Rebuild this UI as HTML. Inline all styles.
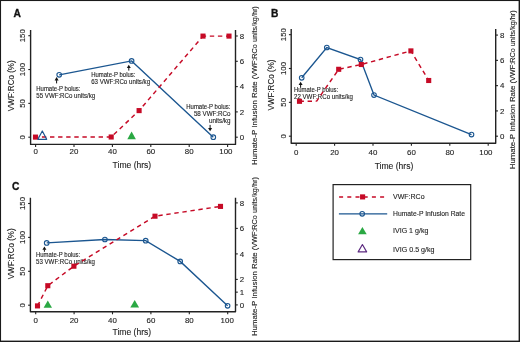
<!DOCTYPE html><html><head><meta charset="utf-8"><style>html,body{margin:0;padding:0;background:#fff;}svg{display:block;will-change:transform;}text{font-family:"Liberation Sans", sans-serif;}</style></head><body>
<svg width="520" height="342" viewBox="0 0 520 342">
<rect x="0" y="0" width="520" height="342" fill="#fff"/>
<text x="13.40" y="17.00" font-size="11.8" text-anchor="start" fill="#111" font-weight="bold" stroke="#111" stroke-width="0.35" textLength="7.4" lengthAdjust="spacingAndGlyphs">A</text>
<polyline points="30.6,30.0 30.6,144.4 235.5,144.4 235.5,30.0" fill="none" stroke="#222" stroke-width="1.4" stroke-linejoin="round"/>
<line x1="28.30" y1="137.20" x2="30.60" y2="137.20" stroke="#222" stroke-width="1.1" />
<text x="25.20" y="137.20" font-size="7.9" text-anchor="middle" fill="#1e1e1e" font-weight="normal" stroke="#1e1e1e" stroke-width="0.12" transform="rotate(-90 25.20 137.20)">0</text>
<line x1="28.30" y1="103.37" x2="30.60" y2="103.37" stroke="#222" stroke-width="1.1" />
<text x="25.20" y="103.37" font-size="7.9" text-anchor="middle" fill="#1e1e1e" font-weight="normal" stroke="#1e1e1e" stroke-width="0.12" transform="rotate(-90 25.20 103.37)">50</text>
<line x1="28.30" y1="69.54" x2="30.60" y2="69.54" stroke="#222" stroke-width="1.1" />
<text x="25.20" y="69.54" font-size="7.9" text-anchor="middle" fill="#1e1e1e" font-weight="normal" stroke="#1e1e1e" stroke-width="0.12" transform="rotate(-90 25.20 69.54)">100</text>
<line x1="28.30" y1="35.71" x2="30.60" y2="35.71" stroke="#222" stroke-width="1.1" />
<text x="25.20" y="35.71" font-size="7.9" text-anchor="middle" fill="#1e1e1e" font-weight="normal" stroke="#1e1e1e" stroke-width="0.12" transform="rotate(-90 25.20 35.71)">150</text>
<line x1="35.60" y1="144.40" x2="35.60" y2="147.00" stroke="#222" stroke-width="1.1" />
<text x="35.60" y="154.40" font-size="7.9" text-anchor="middle" fill="#1e1e1e" font-weight="normal" stroke="#1e1e1e" stroke-width="0.12">0</text>
<line x1="74.00" y1="144.40" x2="74.00" y2="147.00" stroke="#222" stroke-width="1.1" />
<text x="74.00" y="154.40" font-size="7.9" text-anchor="middle" fill="#1e1e1e" font-weight="normal" stroke="#1e1e1e" stroke-width="0.12">20</text>
<line x1="112.40" y1="144.40" x2="112.40" y2="147.00" stroke="#222" stroke-width="1.1" />
<text x="112.40" y="154.40" font-size="7.9" text-anchor="middle" fill="#1e1e1e" font-weight="normal" stroke="#1e1e1e" stroke-width="0.12">40</text>
<line x1="150.80" y1="144.40" x2="150.80" y2="147.00" stroke="#222" stroke-width="1.1" />
<text x="150.80" y="154.40" font-size="7.9" text-anchor="middle" fill="#1e1e1e" font-weight="normal" stroke="#1e1e1e" stroke-width="0.12">60</text>
<line x1="189.20" y1="144.40" x2="189.20" y2="147.00" stroke="#222" stroke-width="1.1" />
<text x="189.20" y="154.40" font-size="7.9" text-anchor="middle" fill="#1e1e1e" font-weight="normal" stroke="#1e1e1e" stroke-width="0.12">80</text>
<line x1="227.60" y1="144.40" x2="227.60" y2="147.00" stroke="#222" stroke-width="1.1" />
<text x="225.90" y="154.40" font-size="7.9" text-anchor="middle" fill="#1e1e1e" font-weight="normal" stroke="#1e1e1e" stroke-width="0.12">100</text>
<line x1="235.50" y1="137.20" x2="237.80" y2="137.20" stroke="#222" stroke-width="1.1" />
<text x="239.70" y="140.00" font-size="7.9" text-anchor="start" fill="#1e1e1e" font-weight="normal" stroke="#1e1e1e" stroke-width="0.12">0</text>
<line x1="235.50" y1="111.90" x2="237.80" y2="111.90" stroke="#222" stroke-width="1.1" />
<text x="239.70" y="114.70" font-size="7.9" text-anchor="start" fill="#1e1e1e" font-weight="normal" stroke="#1e1e1e" stroke-width="0.12">2</text>
<line x1="235.50" y1="86.60" x2="237.80" y2="86.60" stroke="#222" stroke-width="1.1" />
<text x="239.70" y="89.40" font-size="7.9" text-anchor="start" fill="#1e1e1e" font-weight="normal" stroke="#1e1e1e" stroke-width="0.12">4</text>
<line x1="235.50" y1="61.30" x2="237.80" y2="61.30" stroke="#222" stroke-width="1.1" />
<text x="239.70" y="64.10" font-size="7.9" text-anchor="start" fill="#1e1e1e" font-weight="normal" stroke="#1e1e1e" stroke-width="0.12">6</text>
<line x1="235.50" y1="36.00" x2="237.80" y2="36.00" stroke="#222" stroke-width="1.1" />
<text x="239.70" y="38.80" font-size="7.9" text-anchor="start" fill="#1e1e1e" font-weight="normal" stroke="#1e1e1e" stroke-width="0.12">8</text>
<text x="131.90" y="167.80" font-size="8.4" text-anchor="middle" fill="#1e1e1e" font-weight="normal" stroke="#1e1e1e" stroke-width="0.12" textLength="38.6" lengthAdjust="spacingAndGlyphs">Time (hrs)</text>
<text x="13.70" y="85.80" font-size="8.2" text-anchor="middle" fill="#1e1e1e" font-weight="normal" stroke="#1e1e1e" stroke-width="0.12" transform="rotate(-90 13.70 85.80)" textLength="51" lengthAdjust="spacingAndGlyphs">VWF:RCo (%)</text>
<text x="257.40" y="165.10" font-size="7.6" text-anchor="start" fill="#1e1e1e" font-weight="normal" stroke="#1e1e1e" stroke-width="0.12" transform="rotate(-90 257.40 165.10)" textLength="83.8" lengthAdjust="spacingAndGlyphs">Humate-P Infusion Rate</text>
<text x="257.40" y="79.20" font-size="7.6" text-anchor="start" fill="#1e1e1e" font-weight="normal" stroke="#1e1e1e" stroke-width="0.12" transform="rotate(-90 257.40 79.20)" textLength="73.0" lengthAdjust="spacingAndGlyphs">(VWF:RCo units/kg/hr)</text>
<text x="36.30" y="91.40" font-size="6.5" text-anchor="start" fill="#1e1e1e" font-weight="normal" stroke="#1e1e1e" stroke-width="0.12" textLength="44.2" lengthAdjust="spacingAndGlyphs">Humate-P bolus:</text>
<text x="36.30" y="98.20" font-size="6.5" text-anchor="start" fill="#1e1e1e" font-weight="normal" stroke="#1e1e1e" stroke-width="0.12" textLength="58.9" lengthAdjust="spacingAndGlyphs">55 VWF:RCo units/kg</text>
<text x="91.20" y="76.90" font-size="6.5" text-anchor="start" fill="#1e1e1e" font-weight="normal" stroke="#1e1e1e" stroke-width="0.12" textLength="44.2" lengthAdjust="spacingAndGlyphs">Humate-P bolus:</text>
<text x="91.20" y="84.10" font-size="6.5" text-anchor="start" fill="#1e1e1e" font-weight="normal" stroke="#1e1e1e" stroke-width="0.12" textLength="58.9" lengthAdjust="spacingAndGlyphs">63 VWF:RCo units/kg</text>
<text x="230.50" y="108.80" font-size="6.5" text-anchor="end" fill="#1e1e1e" font-weight="normal" stroke="#1e1e1e" stroke-width="0.12" textLength="44.2" lengthAdjust="spacingAndGlyphs">Humate-P bolus:</text>
<text x="230.50" y="115.80" font-size="6.5" text-anchor="end" fill="#1e1e1e" font-weight="normal" stroke="#1e1e1e" stroke-width="0.12" textLength="36.6" lengthAdjust="spacingAndGlyphs">58 VWF:RCo</text>
<text x="230.50" y="123.00" font-size="6.5" text-anchor="end" fill="#1e1e1e" font-weight="normal" stroke="#1e1e1e" stroke-width="0.12" textLength="21.6" lengthAdjust="spacingAndGlyphs">units/kg</text>
<polyline points="59.20,74.80 131.60,60.90 213.30,137.20" fill="none" stroke="#1b5690" stroke-width="1.35"/>
<circle cx="59.20" cy="74.80" r="2.3" fill="none" stroke="#1b5690" stroke-width="1.1"/>
<circle cx="131.60" cy="60.90" r="2.3" fill="none" stroke="#1b5690" stroke-width="1.1"/>
<circle cx="213.30" cy="137.20" r="2.3" fill="none" stroke="#1b5690" stroke-width="1.1"/>
<line x1="35.50" y1="137.10" x2="111.20" y2="137.00" stroke="#c60a26" stroke-width="1.45" stroke-dasharray="4.4 3.7" stroke-dashoffset="1.70"/>
<line x1="111.20" y1="137.00" x2="139.10" y2="110.60" stroke="#c60a26" stroke-width="1.45" stroke-dasharray="4.4 3.7" stroke-dashoffset="4.50"/>
<line x1="139.10" y1="110.60" x2="203.00" y2="36.10" stroke="#c60a26" stroke-width="1.45" stroke-dasharray="4.4 3.7" stroke-dashoffset="2.41"/>
<line x1="203.00" y1="36.10" x2="229.00" y2="36.10" stroke="#c60a26" stroke-width="1.45" stroke-dasharray="4.4 3.7" stroke-dashoffset="1.30"/>
<rect x="32.95" y="134.55" width="5.1" height="5.1" fill="#c60a26"/>
<rect x="108.65" y="134.45" width="5.1" height="5.1" fill="#c60a26"/>
<rect x="136.55" y="108.05" width="5.1" height="5.1" fill="#c60a26"/>
<rect x="200.45" y="33.55" width="5.1" height="5.1" fill="#c60a26"/>
<rect x="226.45" y="33.55" width="5.1" height="5.1" fill="#c60a26"/>
<polygon points="42.30,131.00 46.70,139.30 37.90,139.30" fill="none" stroke="#1b5690" stroke-width="1.2" stroke-linejoin="round"/>
<polygon points="131.60,131.60 135.90,139.20 127.30,139.20" fill="#2aa843"/>
<polygon points="56.60,77.10 58.60,80.40 54.60,80.40" fill="#111"/>
<line x1="56.60" y1="80.10" x2="56.60" y2="83.40" stroke="#111" stroke-width="1.0" />
<polygon points="128.80,64.80 130.80,68.10 126.80,68.10" fill="#111"/>
<line x1="128.80" y1="67.80" x2="128.80" y2="70.60" stroke="#111" stroke-width="1.0" />
<polygon points="210.10,131.20 212.10,127.90 208.10,127.90" fill="#111"/>
<line x1="210.10" y1="124.90" x2="210.10" y2="128.20" stroke="#111" stroke-width="1.0" />
<text x="271.10" y="17.00" font-size="11.8" text-anchor="start" fill="#111" font-weight="bold" stroke="#111" stroke-width="0.35" textLength="7.4" lengthAdjust="spacingAndGlyphs">B</text>
<polyline points="291.2,29.1 291.2,143.2 495.7,143.2 495.7,29.1" fill="none" stroke="#222" stroke-width="1.4" stroke-linejoin="round"/>
<line x1="288.90" y1="136.20" x2="291.20" y2="136.20" stroke="#222" stroke-width="1.1" />
<text x="285.80" y="136.20" font-size="7.9" text-anchor="middle" fill="#1e1e1e" font-weight="normal" stroke="#1e1e1e" stroke-width="0.12" transform="rotate(-90 285.80 136.20)">0</text>
<line x1="288.90" y1="102.35" x2="291.20" y2="102.35" stroke="#222" stroke-width="1.1" />
<text x="285.80" y="102.35" font-size="7.9" text-anchor="middle" fill="#1e1e1e" font-weight="normal" stroke="#1e1e1e" stroke-width="0.12" transform="rotate(-90 285.80 102.35)">50</text>
<line x1="288.90" y1="68.50" x2="291.20" y2="68.50" stroke="#222" stroke-width="1.1" />
<text x="285.80" y="68.50" font-size="7.9" text-anchor="middle" fill="#1e1e1e" font-weight="normal" stroke="#1e1e1e" stroke-width="0.12" transform="rotate(-90 285.80 68.50)">100</text>
<line x1="288.90" y1="34.65" x2="291.20" y2="34.65" stroke="#222" stroke-width="1.1" />
<text x="285.80" y="34.65" font-size="7.9" text-anchor="middle" fill="#1e1e1e" font-weight="normal" stroke="#1e1e1e" stroke-width="0.12" transform="rotate(-90 285.80 34.65)">150</text>
<line x1="296.20" y1="143.20" x2="296.20" y2="145.80" stroke="#222" stroke-width="1.1" />
<text x="296.20" y="155.40" font-size="7.9" text-anchor="middle" fill="#1e1e1e" font-weight="normal" stroke="#1e1e1e" stroke-width="0.12">0</text>
<line x1="334.60" y1="143.20" x2="334.60" y2="145.80" stroke="#222" stroke-width="1.1" />
<text x="334.60" y="155.40" font-size="7.9" text-anchor="middle" fill="#1e1e1e" font-weight="normal" stroke="#1e1e1e" stroke-width="0.12">20</text>
<line x1="373.00" y1="143.20" x2="373.00" y2="145.80" stroke="#222" stroke-width="1.1" />
<text x="373.00" y="155.40" font-size="7.9" text-anchor="middle" fill="#1e1e1e" font-weight="normal" stroke="#1e1e1e" stroke-width="0.12">40</text>
<line x1="411.40" y1="143.20" x2="411.40" y2="145.80" stroke="#222" stroke-width="1.1" />
<text x="411.40" y="155.40" font-size="7.9" text-anchor="middle" fill="#1e1e1e" font-weight="normal" stroke="#1e1e1e" stroke-width="0.12">60</text>
<line x1="449.80" y1="143.20" x2="449.80" y2="145.80" stroke="#222" stroke-width="1.1" />
<text x="449.80" y="155.40" font-size="7.9" text-anchor="middle" fill="#1e1e1e" font-weight="normal" stroke="#1e1e1e" stroke-width="0.12">80</text>
<line x1="488.20" y1="143.20" x2="488.20" y2="145.80" stroke="#222" stroke-width="1.1" />
<text x="485.85" y="155.40" font-size="7.9" text-anchor="middle" fill="#1e1e1e" font-weight="normal" stroke="#1e1e1e" stroke-width="0.12">100</text>
<line x1="495.70" y1="136.20" x2="498.00" y2="136.20" stroke="#222" stroke-width="1.1" />
<text x="499.90" y="139.00" font-size="7.9" text-anchor="start" fill="#1e1e1e" font-weight="normal" stroke="#1e1e1e" stroke-width="0.12">0</text>
<line x1="495.70" y1="110.92" x2="498.00" y2="110.92" stroke="#222" stroke-width="1.1" />
<text x="499.90" y="113.72" font-size="7.9" text-anchor="start" fill="#1e1e1e" font-weight="normal" stroke="#1e1e1e" stroke-width="0.12">2</text>
<line x1="495.70" y1="85.64" x2="498.00" y2="85.64" stroke="#222" stroke-width="1.1" />
<text x="499.90" y="88.44" font-size="7.9" text-anchor="start" fill="#1e1e1e" font-weight="normal" stroke="#1e1e1e" stroke-width="0.12">4</text>
<line x1="495.70" y1="60.36" x2="498.00" y2="60.36" stroke="#222" stroke-width="1.1" />
<text x="499.90" y="63.16" font-size="7.9" text-anchor="start" fill="#1e1e1e" font-weight="normal" stroke="#1e1e1e" stroke-width="0.12">6</text>
<line x1="495.70" y1="35.08" x2="498.00" y2="35.08" stroke="#222" stroke-width="1.1" />
<text x="499.90" y="37.88" font-size="7.9" text-anchor="start" fill="#1e1e1e" font-weight="normal" stroke="#1e1e1e" stroke-width="0.12">8</text>
<text x="394.00" y="168.70" font-size="8.4" text-anchor="middle" fill="#1e1e1e" font-weight="normal" stroke="#1e1e1e" stroke-width="0.12" textLength="38.6" lengthAdjust="spacingAndGlyphs">Time (hrs)</text>
<text x="274.20" y="85.00" font-size="8.2" text-anchor="middle" fill="#1e1e1e" font-weight="normal" stroke="#1e1e1e" stroke-width="0.12" transform="rotate(-90 274.20 85.00)" textLength="51" lengthAdjust="spacingAndGlyphs">VWF:RCo (%)</text>
<text x="515.30" y="169.30" font-size="7.6" text-anchor="start" fill="#1e1e1e" font-weight="normal" stroke="#1e1e1e" stroke-width="0.12" transform="rotate(-90 515.30 169.30)" textLength="83.8" lengthAdjust="spacingAndGlyphs">Humate-P Infusion Rate</text>
<text x="515.30" y="83.40" font-size="7.6" text-anchor="start" fill="#1e1e1e" font-weight="normal" stroke="#1e1e1e" stroke-width="0.12" transform="rotate(-90 515.30 83.40)" textLength="73.0" lengthAdjust="spacingAndGlyphs">(VWF:RCo units/kg/hr)</text>
<text x="294.00" y="91.80" font-size="6.5" text-anchor="start" fill="#1e1e1e" font-weight="normal" stroke="#1e1e1e" stroke-width="0.12" textLength="44.2" lengthAdjust="spacingAndGlyphs">Humate-P bolus:</text>
<text x="294.00" y="99.00" font-size="6.5" text-anchor="start" fill="#1e1e1e" font-weight="normal" stroke="#1e1e1e" stroke-width="0.12" textLength="58.9" lengthAdjust="spacingAndGlyphs">22 VWF:RCo units/kg</text>
<polyline points="301.70,77.80 326.80,47.50 360.50,59.50 374.00,95.10 471.50,134.60" fill="none" stroke="#1b5690" stroke-width="1.35"/>
<circle cx="301.70" cy="77.80" r="2.3" fill="none" stroke="#1b5690" stroke-width="1.1"/>
<circle cx="326.80" cy="47.50" r="2.3" fill="none" stroke="#1b5690" stroke-width="1.1"/>
<circle cx="360.50" cy="59.50" r="2.3" fill="none" stroke="#1b5690" stroke-width="1.1"/>
<circle cx="374.00" cy="95.10" r="2.3" fill="none" stroke="#1b5690" stroke-width="1.1"/>
<circle cx="471.50" cy="134.60" r="2.3" fill="none" stroke="#1b5690" stroke-width="1.1"/>
<line x1="299.50" y1="101.30" x2="316.50" y2="101.30" stroke="#c60a26" stroke-width="1.45" stroke-dasharray="4.4 3.7" stroke-dashoffset="0.00"/>
<line x1="316.50" y1="101.30" x2="338.70" y2="69.30" stroke="#c60a26" stroke-width="1.45" stroke-dasharray="4.4 3.7" stroke-dashoffset="0.80"/>
<line x1="338.70" y1="69.30" x2="361.30" y2="64.50" stroke="#c60a26" stroke-width="1.45" stroke-dasharray="4.4 3.7" stroke-dashoffset="7.35"/>
<line x1="361.30" y1="64.50" x2="410.90" y2="50.90" stroke="#c60a26" stroke-width="1.45" stroke-dasharray="4.4 3.7" stroke-dashoffset="6.15"/>
<line x1="410.90" y1="50.90" x2="428.70" y2="80.50" stroke="#c60a26" stroke-width="1.45" stroke-dasharray="4.4 3.7" stroke-dashoffset="0.88"/>
<rect x="296.95" y="98.75" width="5.1" height="5.1" fill="#c60a26"/>
<rect x="336.15" y="66.75" width="5.1" height="5.1" fill="#c60a26"/>
<rect x="358.75" y="61.95" width="5.1" height="5.1" fill="#c60a26"/>
<rect x="408.35" y="48.35" width="5.1" height="5.1" fill="#c60a26"/>
<rect x="426.15" y="77.95" width="5.1" height="5.1" fill="#c60a26"/>
<polygon points="300.60,81.80 302.60,85.10 298.60,85.10" fill="#111"/>
<line x1="300.60" y1="84.80" x2="300.60" y2="87.80" stroke="#111" stroke-width="1.0" />
<text x="11.90" y="189.70" font-size="11.8" text-anchor="start" fill="#111" font-weight="bold" stroke="#111" stroke-width="0.35" textLength="7.4" lengthAdjust="spacingAndGlyphs">C</text>
<polyline points="30.4,197.7 30.4,311.7 235.5,311.7 235.5,197.7" fill="none" stroke="#222" stroke-width="1.4" stroke-linejoin="round"/>
<line x1="28.10" y1="305.20" x2="30.40" y2="305.20" stroke="#222" stroke-width="1.1" />
<text x="25.00" y="305.20" font-size="7.9" text-anchor="middle" fill="#1e1e1e" font-weight="normal" stroke="#1e1e1e" stroke-width="0.12" transform="rotate(-90 25.00 305.20)">0</text>
<line x1="28.10" y1="271.30" x2="30.40" y2="271.30" stroke="#222" stroke-width="1.1" />
<text x="25.00" y="271.30" font-size="7.9" text-anchor="middle" fill="#1e1e1e" font-weight="normal" stroke="#1e1e1e" stroke-width="0.12" transform="rotate(-90 25.00 271.30)">50</text>
<line x1="28.10" y1="237.40" x2="30.40" y2="237.40" stroke="#222" stroke-width="1.1" />
<text x="25.00" y="237.40" font-size="7.9" text-anchor="middle" fill="#1e1e1e" font-weight="normal" stroke="#1e1e1e" stroke-width="0.12" transform="rotate(-90 25.00 237.40)">100</text>
<line x1="28.10" y1="203.50" x2="30.40" y2="203.50" stroke="#222" stroke-width="1.1" />
<text x="25.00" y="203.50" font-size="7.9" text-anchor="middle" fill="#1e1e1e" font-weight="normal" stroke="#1e1e1e" stroke-width="0.12" transform="rotate(-90 25.00 203.50)">150</text>
<line x1="35.70" y1="311.70" x2="35.70" y2="314.30" stroke="#222" stroke-width="1.1" />
<text x="35.70" y="322.80" font-size="7.9" text-anchor="middle" fill="#1e1e1e" font-weight="normal" stroke="#1e1e1e" stroke-width="0.12">0</text>
<line x1="74.10" y1="311.70" x2="74.10" y2="314.30" stroke="#222" stroke-width="1.1" />
<text x="74.10" y="322.80" font-size="7.9" text-anchor="middle" fill="#1e1e1e" font-weight="normal" stroke="#1e1e1e" stroke-width="0.12">20</text>
<line x1="112.50" y1="311.70" x2="112.50" y2="314.30" stroke="#222" stroke-width="1.1" />
<text x="112.50" y="322.80" font-size="7.9" text-anchor="middle" fill="#1e1e1e" font-weight="normal" stroke="#1e1e1e" stroke-width="0.12">40</text>
<line x1="150.90" y1="311.70" x2="150.90" y2="314.30" stroke="#222" stroke-width="1.1" />
<text x="150.90" y="322.80" font-size="7.9" text-anchor="middle" fill="#1e1e1e" font-weight="normal" stroke="#1e1e1e" stroke-width="0.12">60</text>
<line x1="189.30" y1="311.70" x2="189.30" y2="314.30" stroke="#222" stroke-width="1.1" />
<text x="189.30" y="322.80" font-size="7.9" text-anchor="middle" fill="#1e1e1e" font-weight="normal" stroke="#1e1e1e" stroke-width="0.12">80</text>
<line x1="227.70" y1="311.70" x2="227.70" y2="314.30" stroke="#222" stroke-width="1.1" />
<text x="227.20" y="322.80" font-size="7.9" text-anchor="middle" fill="#1e1e1e" font-weight="normal" stroke="#1e1e1e" stroke-width="0.12">100</text>
<line x1="235.50" y1="304.90" x2="237.80" y2="304.90" stroke="#222" stroke-width="1.1" />
<text x="239.70" y="307.70" font-size="7.9" text-anchor="start" fill="#1e1e1e" font-weight="normal" stroke="#1e1e1e" stroke-width="0.12">0</text>
<line x1="235.50" y1="292.15" x2="237.80" y2="292.15" stroke="#222" stroke-width="1.1" />
<text x="239.70" y="294.95" font-size="7.9" text-anchor="start" fill="#1e1e1e" font-weight="normal" stroke="#1e1e1e" stroke-width="0.12">1</text>
<line x1="235.50" y1="279.40" x2="237.80" y2="279.40" stroke="#222" stroke-width="1.1" />
<text x="239.70" y="282.20" font-size="7.9" text-anchor="start" fill="#1e1e1e" font-weight="normal" stroke="#1e1e1e" stroke-width="0.12">2</text>
<line x1="235.50" y1="253.90" x2="237.80" y2="253.90" stroke="#222" stroke-width="1.1" />
<text x="239.70" y="256.70" font-size="7.9" text-anchor="start" fill="#1e1e1e" font-weight="normal" stroke="#1e1e1e" stroke-width="0.12">4</text>
<line x1="235.50" y1="228.40" x2="237.80" y2="228.40" stroke="#222" stroke-width="1.1" />
<text x="239.70" y="231.20" font-size="7.9" text-anchor="start" fill="#1e1e1e" font-weight="normal" stroke="#1e1e1e" stroke-width="0.12">6</text>
<line x1="235.50" y1="202.90" x2="237.80" y2="202.90" stroke="#222" stroke-width="1.1" />
<text x="239.70" y="205.70" font-size="7.9" text-anchor="start" fill="#1e1e1e" font-weight="normal" stroke="#1e1e1e" stroke-width="0.12">8</text>
<text x="131.80" y="334.60" font-size="8.4" text-anchor="middle" fill="#1e1e1e" font-weight="normal" stroke="#1e1e1e" stroke-width="0.12" textLength="38.6" lengthAdjust="spacingAndGlyphs">Time (hrs)</text>
<text x="13.70" y="253.80" font-size="8.2" text-anchor="middle" fill="#1e1e1e" font-weight="normal" stroke="#1e1e1e" stroke-width="0.12" transform="rotate(-90 13.70 253.80)" textLength="51" lengthAdjust="spacingAndGlyphs">VWF:RCo (%)</text>
<text x="257.50" y="336.10" font-size="7.6" text-anchor="start" fill="#1e1e1e" font-weight="normal" stroke="#1e1e1e" stroke-width="0.12" transform="rotate(-90 257.50 336.10)" textLength="83.8" lengthAdjust="spacingAndGlyphs">Humate-P Infusion Rate</text>
<text x="257.50" y="250.20" font-size="7.6" text-anchor="start" fill="#1e1e1e" font-weight="normal" stroke="#1e1e1e" stroke-width="0.12" transform="rotate(-90 257.50 250.20)" textLength="73.0" lengthAdjust="spacingAndGlyphs">(VWF:RCo units/kg/hr)</text>
<text x="36.00" y="256.50" font-size="6.5" text-anchor="start" fill="#1e1e1e" font-weight="normal" stroke="#1e1e1e" stroke-width="0.12" textLength="44.2" lengthAdjust="spacingAndGlyphs">Humate-P bolus:</text>
<text x="36.00" y="263.80" font-size="6.5" text-anchor="start" fill="#1e1e1e" font-weight="normal" stroke="#1e1e1e" stroke-width="0.12" textLength="58.9" lengthAdjust="spacingAndGlyphs">53 VWF:RCo units/kg</text>
<polyline points="46.70,242.90 104.90,239.50 145.70,240.70 180.20,261.40 227.60,305.80" fill="none" stroke="#1b5690" stroke-width="1.35"/>
<circle cx="46.70" cy="242.90" r="2.3" fill="none" stroke="#1b5690" stroke-width="1.1"/>
<circle cx="104.90" cy="239.50" r="2.3" fill="none" stroke="#1b5690" stroke-width="1.1"/>
<circle cx="145.70" cy="240.70" r="2.3" fill="none" stroke="#1b5690" stroke-width="1.1"/>
<circle cx="180.20" cy="261.40" r="2.3" fill="none" stroke="#1b5690" stroke-width="1.1"/>
<circle cx="227.60" cy="305.80" r="2.3" fill="none" stroke="#1b5690" stroke-width="1.1"/>
<line x1="37.50" y1="305.90" x2="47.80" y2="285.70" stroke="#c60a26" stroke-width="1.45" stroke-dasharray="4.4 3.7" stroke-dashoffset="0.00"/>
<line x1="47.80" y1="285.70" x2="73.90" y2="266.20" stroke="#c60a26" stroke-width="1.45" stroke-dasharray="4.4 3.7" stroke-dashoffset="6.47"/>
<line x1="73.90" y1="266.20" x2="155.00" y2="216.20" stroke="#c60a26" stroke-width="1.45" stroke-dasharray="4.4 3.7" stroke-dashoffset="6.65"/>
<line x1="155.00" y1="216.20" x2="220.50" y2="206.40" stroke="#c60a26" stroke-width="1.45" stroke-dasharray="4.4 3.7" stroke-dashoffset="4.73"/>
<rect x="34.95" y="303.35" width="5.1" height="5.1" fill="#c60a26"/>
<rect x="45.25" y="283.15" width="5.1" height="5.1" fill="#c60a26"/>
<rect x="71.35" y="263.65" width="5.1" height="5.1" fill="#c60a26"/>
<rect x="152.45" y="213.65" width="5.1" height="5.1" fill="#c60a26"/>
<rect x="217.95" y="203.85" width="5.1" height="5.1" fill="#c60a26"/>
<polygon points="47.80,300.40 52.00,307.70 43.60,307.70" fill="#2aa843"/>
<polygon points="134.70,300.00 139.10,307.60 130.30,307.60" fill="#2aa843"/>
<polygon points="44.40,246.40 46.40,249.70 42.40,249.70" fill="#111"/>
<line x1="44.40" y1="249.40" x2="44.40" y2="251.80" stroke="#111" stroke-width="1.0" />
<rect x="333.1" y="184.6" width="137.6" height="75.0" fill="none" stroke="#222" stroke-width="1.2"/>
<line x1="339.10" y1="196.90" x2="385.00" y2="196.90" stroke="#c60a26" stroke-width="1.45" stroke-dasharray="4 4.2"/>
<rect x="360.05" y="194.35" width="5.1" height="5.1" fill="#c60a26"/>
<line x1="338.90" y1="213.80" x2="387.20" y2="213.80" stroke="#1b5690" stroke-width="1.35" />
<circle cx="362.20" cy="213.80" r="2.3" fill="none" stroke="#1b5690" stroke-width="1.1"/>
<polygon points="362.40,226.90 366.70,234.30 358.10,234.30" fill="#2aa843"/>
<polygon points="362.40,244.50 366.65,251.90 358.15,251.90" fill="none" stroke="#5c2a80" stroke-width="1.15" stroke-linejoin="round"/>
<text x="393.00" y="199.30" font-size="7.6" text-anchor="start" fill="#1e1e1e" font-weight="normal" stroke="#1e1e1e" stroke-width="0.12" textLength="31.6" lengthAdjust="spacingAndGlyphs">VWF:RCo</text>
<text x="393.00" y="216.40" font-size="7.6" text-anchor="start" fill="#1e1e1e" font-weight="normal" stroke="#1e1e1e" stroke-width="0.12" textLength="72.0" lengthAdjust="spacingAndGlyphs">Humate-P Infusion Rate</text>
<text x="393.00" y="232.70" font-size="7.6" text-anchor="start" fill="#1e1e1e" font-weight="normal" stroke="#1e1e1e" stroke-width="0.12" textLength="35.4" lengthAdjust="spacingAndGlyphs">IVIG 1 g/kg</text>
<text x="393.00" y="252.00" font-size="7.6" text-anchor="start" fill="#1e1e1e" font-weight="normal" stroke="#1e1e1e" stroke-width="0.12" textLength="41.5" lengthAdjust="spacingAndGlyphs">IVIG 0.5 g/kg</text>
<rect x="0" y="0" width="520" height="1.05" fill="#1a1a1a"/>
<rect x="0" y="0" width="1.05" height="342" fill="#1a1a1a"/>
<rect x="518.6" y="0" width="1.4" height="342" fill="#1a1a1a"/>
<rect x="0" y="340.6" width="520" height="1.4" fill="#1a1a1a"/>
</svg></body></html>
